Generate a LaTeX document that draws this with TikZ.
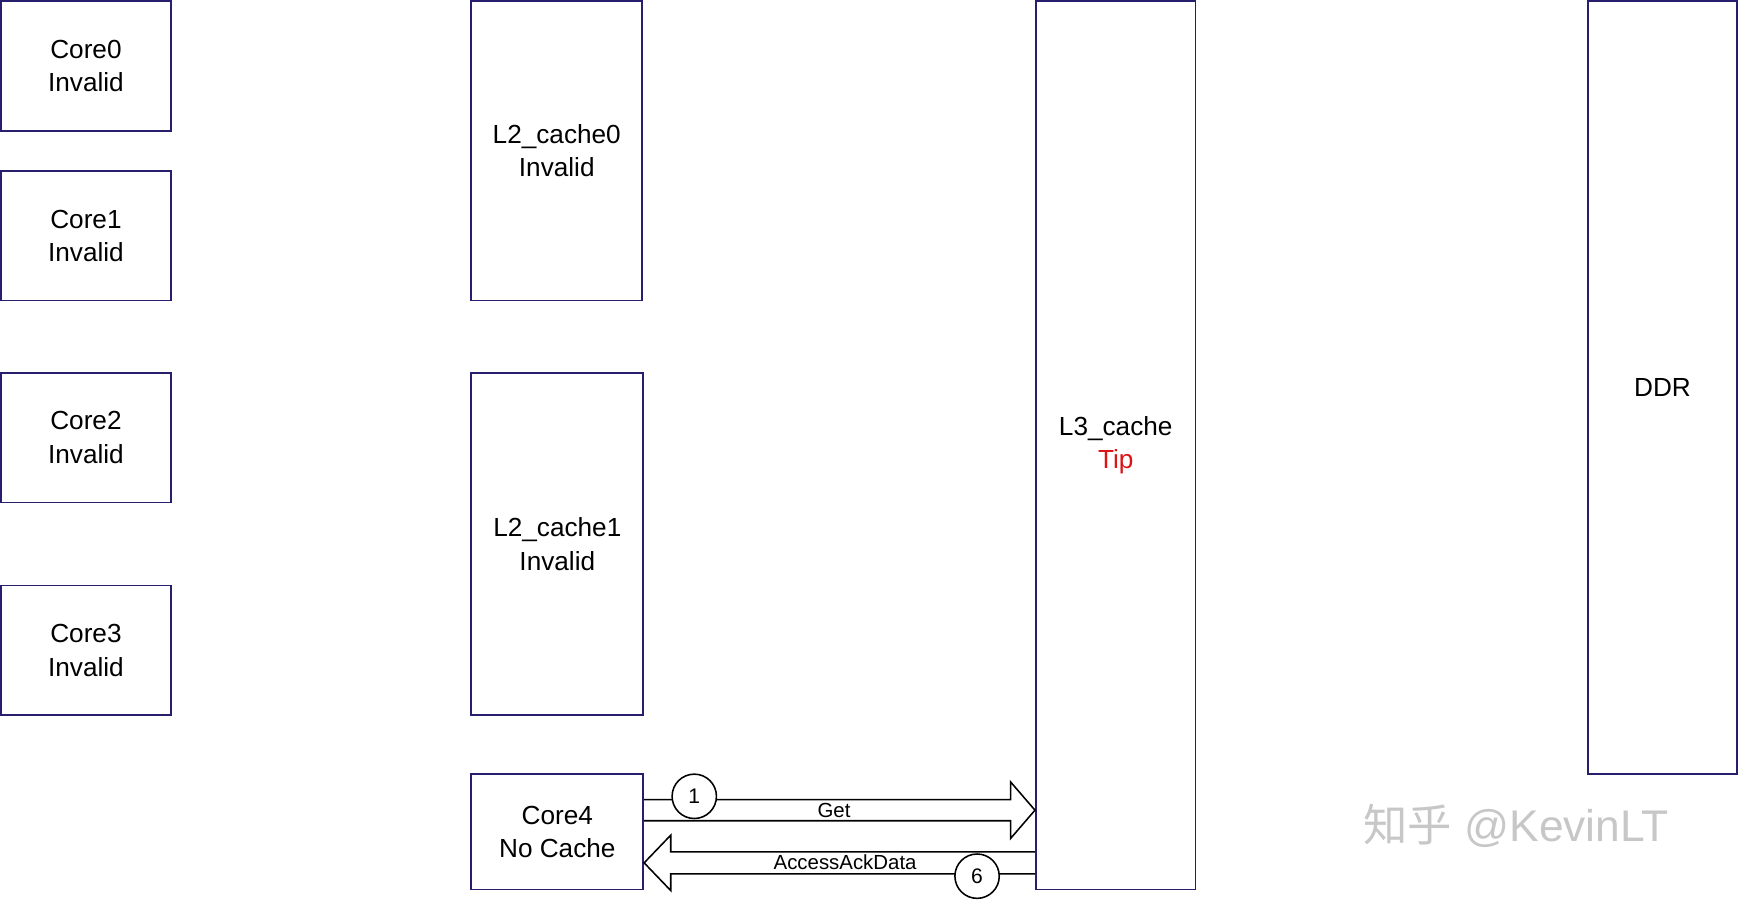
\documentclass[tikz,border=0pt]{standalone}
\usepackage{fontspec}
\setmainfont{Liberation Sans}
\newfontfamily\cjk{Noto Sans CJK SC}
\usetikzlibrary{calc}
\definecolor{boxline}{RGB}{40,30,110}
\definecolor{tipred}{RGB}{220,20,20}
\begin{document}
\begin{tikzpicture}[x=0.5pt,y=-0.5pt,
    blk/.style={draw=boxline,line width=0.8pt,align=center,font=\fontsize{11.8}{15}\selectfont},
    stepno/.style={circle,draw,line width=0.7pt,minimum size=20pt,inner sep=0pt,fill=white,font=\fontsize{9.5}{10}\selectfont},
    lbl/.style={font=\fontsize{9.2}{10}\selectfont,inner sep=0pt},
    band/.style={draw,line width=0.7pt,fill=white}]
    \useasboundingbox (0,0) rectangle (1568,811);
    \node[blk,minimum width=76.5pt,minimum height=58.5pt] (core0) at (77.5,59.5) {Core0\\Invalid};
    \node[blk,minimum width=76.5pt,minimum height=58.5pt] (core1) at (77.5,212.5) {Core1\\Invalid};
    \node[blk,minimum width=76.5pt,minimum height=58.5pt] (core2) at (77.5,394.5) {Core2\\Invalid};
    \node[blk,minimum width=76.5pt,minimum height=58.5pt] (core3) at (77.5,586.5) {Core3\\Invalid};
    \node[blk,minimum width=77pt,minimum height=135pt] (l2a) at (502,136) {L2\_cache0\\Invalid};
    \node[blk,minimum width=77.5pt,minimum height=154.5pt] (l2b) at (502.5,490.5) {L2\_cache1\\Invalid};
    \node[blk,minimum width=77.5pt,minimum height=52pt] (core4) at (502.5,750) {Core4\\No Cache};
    \node[blk,minimum width=72pt,minimum height=400.5pt] (l3) at (1006,401.5) {L3\_cache\\\textcolor{tipred}{Tip}};
    \node[blk,minimum width=67pt,minimum height=348.5pt] (ddr) at (1499,349.5) {DDR};
    % Get
    \coordinate (g0) at (core4.east |- 0,721);
    \coordinate (g1) at (core4.east |- 0,740);
    \draw[band] (g0) -- ($(l3.west |- 0,721)+(-22,0)$) -- ($(l3.west |- 0,705)+(-22,0)$)
        -- (l3.west |- 0,730.5) -- ($(l3.west |- 0,756)+(-22,0)$) -- ($(l3.west |- 0,740)+(-22,0)$) -- (g1);
    \node[lbl] (get) at (752,731) {Get};
    \node[stepno] (s1) at (626,718) {1};
    % AccessAckData
    \coordinate (a0) at (l3.west |- 0,768);
    \coordinate (a1) at (l3.west |- 0,788);
    \draw[band] (a0) -- ($(core4.east |- 0,768)+(24,0)$) -- ($(core4.east |- 0,753)+(24,0)$)
        -- (core4.east |- 0,778) -- ($(core4.east |- 0,803)+(24,0)$) -- ($(core4.east |- 0,788)+(24,0)$) -- (a1);
    \node[lbl] (ack) at (762,777) {AccessAckData};
    \node[stepno] (s6) at (881,790) {6};
    \node[text=black!22,font=\fontsize{20}{24}\selectfont] (mark) at (1367,745) {{\cjk 知乎} @KevinLT};
\end{tikzpicture}
\end{document}
